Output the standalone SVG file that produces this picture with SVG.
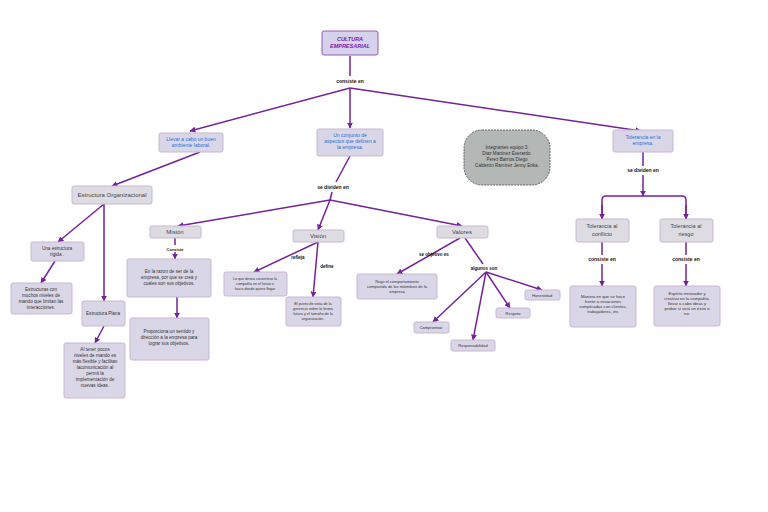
<svg xmlns="http://www.w3.org/2000/svg" width="768" height="512" viewBox="0 0 768 512">
<defs>
<marker id="a" viewBox="0 0 10 10" refX="9" refY="5" markerWidth="4" markerHeight="4" orient="auto"><path d="M0,0L10,5L0,10z" fill="#74239a"/></marker>
<style>
.b{fill:#d9d7e7;stroke:#c9b6d2;stroke-width:1}
.g{fill:#dedce3;stroke:#c9b6d2;stroke-width:1}
.l{stroke:#74239a;stroke-width:1.5;fill:none}
.la{stroke:#74239a;stroke-width:1.5;fill:none;marker-end:url(#a)}
text{font-family:"Liberation Sans",Arial,sans-serif;font-size:4.6px;fill:#333;text-anchor:middle}
.lb{font-weight:bold;fill:#111;font-size:5px}
.bl{fill:#2a6fd6;font-size:5px}
.h{font-size:6px;fill:#444}
</style>
</defs>
<rect width="768" height="512" fill="#fff"/>
<g id="connectors">
<path class="l" d="M350,56V76"/>
<path class="la" d="M350,88L190,131"/>
<path class="la" d="M350,88V128"/>
<path class="la" d="M350,88L641,131"/>
<path class="la" d="M200,152L112,186"/>
<path class="l" d="M350,156L336,182"/>
<path class="l" d="M332,192L330,200"/>
<path class="la" d="M330,200L178,226"/>
<path class="la" d="M330,200L318,230"/>
<path class="la" d="M330,200L462,226"/>
<path class="la" d="M104,204L58,242"/>
<path class="la" d="M104,204V301"/>
<path class="la" d="M55,261L41,283"/>
<path class="la" d="M104,326L95,343"/>
<path class="l" d="M175,238V245"/>
<path class="la" d="M175,252V259"/>
<path class="la" d="M177,297V318"/>
<path class="la" d="M318,242L254,272"/>
<path class="la" d="M318,242L313,297"/>
<path class="la" d="M460,238L397,274"/>
<path class="l" d="M465,238L483,264"/>
<path class="la" d="M486,272L433,322"/>
<path class="la" d="M486,272L473,340"/>
<path class="la" d="M486,272L510,308"/>
<path class="la" d="M486,272L542,290"/>
<path class="l" d="M643,152V166"/>
<path class="la" d="M643,175V196"/>
<path class="l" d="M602,219V200Q602,196 606,196H682Q686,196 686,200V219"/>
<path class="la" d="M602,205V219"/>
<path class="la" d="M686,205V219"/>
<path class="l" d="M602,242V255"/>
<path class="la" d="M602,264V286"/>
<path class="l" d="M686,242V255"/>
<path class="la" d="M686,264V286"/>
</g>
<g id="n-cultura"><rect x="322" y="31" width="56" height="24" rx="2" fill="#d6d2ec" stroke="#9b5bb5"/><text x="350" y="41" style="fill:#7a22a8;font-weight:bold;font-style:italic;font-size:5.5px">CULTURA</text><text x="350" y="48" style="fill:#7a22a8;font-weight:bold;font-style:italic;font-size:5.5px">EMPRESARIAL</text></g>
<text class="lb" x="350" y="83">consiste en</text>
<g id="n-llevar"><rect class="b" x="159" y="133" width="64" height="19" rx="2"/><text class="bl" x="191" y="141">Llevar a cabo un buen</text><text class="bl" x="191" y="147">ambiente laboral.</text></g>
<g id="n-conjunto"><rect class="b" x="317" y="129" width="66" height="27" rx="2"/><text class="bl" x="350" y="137">Un conjunto de</text><text class="bl" x="350" y="143">aspectos que definen a</text><text class="bl" x="350" y="149">la empresa.</text></g>
<g id="n-integrantes"><rect x="464" y="130" width="86" height="55" rx="18" fill="#b3b7b5" stroke="#666" stroke-dasharray="2,1"/><text x="507" y="149">Integrantes equipo 3.</text><text x="507" y="155">Diaz Martinez Everardo.</text><text x="507" y="161">Perez Barrios Diego</text><text x="507" y="167">Calderón Ramírez Jenny Erika.</text></g>
<g id="n-tolerancia"><rect class="b" x="613" y="130" width="60" height="22" rx="2"/><text class="bl" x="643" y="139">Tolerancia en la</text><text class="bl" x="643" y="145">empresa.</text></g>
<g id="n-estructura"><rect class="g" x="72" y="186" width="80" height="18" rx="2"/><text class="h" x="112" y="197">Estructura Organizacional</text></g>
<text class="lb" x="333" y="189">se dividen en</text>
<g id="n-mision"><rect class="g" x="150" y="226" width="51" height="12" rx="2"/><text class="h" x="175" y="234">Misión</text></g>
<g id="n-vision"><rect class="g" x="293" y="230" width="51" height="12" rx="2"/><text class="h" x="318" y="238">Visión</text></g>
<g id="n-valores"><rect class="g" x="437" y="226" width="51" height="12" rx="2"/><text class="h" x="462" y="234">Valores</text></g>
<g id="n-rigida"><rect class="b" x="31" y="242" width="53" height="19" rx="2"/><text x="57" y="250">Una estructura</text><text x="57" y="256">rígida .</text></g>
<g id="n-muchos"><rect class="b" x="11" y="283" width="61" height="31" rx="2"/><text x="41" y="291">Estructuras con</text><text x="41" y="297">muchos niveles de</text><text x="41" y="303">mando que limitan las</text><text x="41" y="309">interacciones.</text></g>
<g id="n-plana"><rect class="b" x="82" y="301" width="43" height="25" rx="2"/><text x="103" y="315">Estructura Plana</text></g>
<g id="n-pocos"><rect class="b" x="64" y="343" width="61" height="55" rx="2"/><text x="95" y="351">Al tener pocos</text><text x="95" y="357">niveles de mando es</text><text x="95" y="363">más flexible y facilitan</text><text x="95" y="369">lacomunicación al</text><text x="95" y="375">permit la</text><text x="95" y="381">implementación de</text><text x="95" y="387">nuevas ideas.</text></g>
<text class="lb" x="175" y="251" style="font-size:4px">Consiste</text>
<g id="n-razon"><rect class="b" x="127" y="259" width="84" height="38" rx="2"/><text x="169" y="273">En la razon de ser de la</text><text x="169" y="279">empresa, por que se crea y</text><text x="169" y="285">cuales son sus objetivos.</text></g>
<g id="n-proporciona"><rect class="b" x="130" y="318" width="79" height="42" rx="2"/><text x="169" y="333">Proporciona un sentido y</text><text x="169" y="339">dirección a la empresa para</text><text x="169" y="345">lograr sus objetivos.</text></g>
<text class="lb" x="298" y="259" style="font-size:4.5px">refleja</text>
<text class="lb" x="327" y="268" style="font-size:4.5px">define</text>
<g id="n-desea"><rect class="b" x="224" y="272" width="63" height="24" rx="2"/><text x="255" y="280" style="font-size:3.6px">Lo que desea convertirse la</text><text x="255" y="285" style="font-size:3.6px">compañía en el futuro o</text><text x="255" y="290" style="font-size:3.6px">hacia donde quiere llegar</text></g>
<g id="n-punto"><rect class="b" x="286" y="297" width="55" height="29" rx="2"/><text x="313" y="305" style="font-size:3.8px">El punto de vista de la</text><text x="313" y="310" style="font-size:3.8px">gerencia sobre la forma</text><text x="313" y="315" style="font-size:3.8px">futura y el tamaño de la</text><text x="313" y="320" style="font-size:3.8px">organización.</text></g>
<text class="lb" x="434" y="256" style="font-size:4.5px">se objetivo es</text>
<g id="n-regir"><rect class="b" x="357" y="274" width="80" height="25" rx="2"/><text x="397" y="283" style="font-size:4px">Regir el comportamiento</text><text x="397" y="288" style="font-size:4px">compartido de los miembros de la</text><text x="397" y="293" style="font-size:4px">empresa</text></g>
<text class="lb" x="484" y="270" style="font-size:4.5px">algunos son</text>
<g id="n-compromiso"><rect class="b" x="414" y="322" width="35" height="11" rx="2"/><text x="431" y="329" style="font-size:4px">Compromiso</text></g>
<g id="n-responsabilidad"><rect class="b" x="451" y="340" width="44" height="11" rx="2"/><text x="473" y="347" style="font-size:4px">Responsabilidad</text></g>
<g id="n-respeto"><rect class="b" x="496" y="308" width="34" height="10" rx="2"/><text x="513" y="315" style="font-size:4px">Respeto</text></g>
<g id="n-honestidad"><rect class="b" x="525" y="290" width="35" height="10" rx="2"/><text x="542" y="297" style="font-size:4px">Honestidad</text></g>
<text class="lb" x="643" y="172">se dividen en</text>
<g id="n-conflicto"><rect class="g" x="576" y="219" width="53" height="23" rx="2"/><text class="h" x="602" y="228" style="font-size:5.5px">Tolerancia al</text><text class="h" x="602" y="236" style="font-size:5.5px">conflicto</text></g>
<g id="n-riesgo"><rect class="g" x="660" y="219" width="53" height="23" rx="2"/><text class="h" x="686" y="228" style="font-size:5.5px">Tolerancia al</text><text class="h" x="686" y="236" style="font-size:5.5px">riesgo</text></g>
<text class="lb" x="602" y="261">consiste en</text>
<text class="lb" x="686" y="261">consiste en</text>
<g id="n-manera"><rect class="b" x="570" y="286" width="66" height="41" rx="2"/><text x="603" y="298" style="font-size:4.2px">Manera en que se hace</text><text x="603" y="303" style="font-size:4.2px">frente a situaciones</text><text x="603" y="308" style="font-size:4.2px">complicadas con clientes,</text><text x="603" y="313" style="font-size:4.2px">trabajadores, etc</text></g>
<g id="n-espiritu"><rect class="b" x="654" y="286" width="66" height="40" rx="2"/><text x="687" y="295" style="font-size:4.2px">Espíritu innovador y</text><text x="687" y="300" style="font-size:4.2px">creativo en la compañía,</text><text x="687" y="305" style="font-size:4.2px">llevar a cabo ideas y</text><text x="687" y="310" style="font-size:4.2px">probar si será un éxito o</text><text x="687" y="315" style="font-size:4.2px">no.</text></g>
</svg>
